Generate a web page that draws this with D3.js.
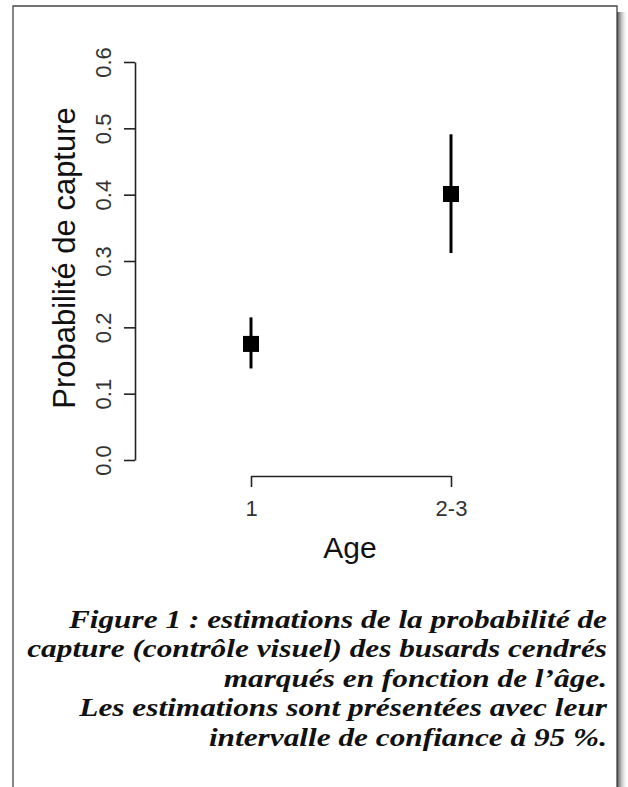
<!DOCTYPE html>
<html>
<head>
<meta charset="utf-8">
<script src="https://cdn.jsdelivr.net/npm/d3@7"></script>
<style>
  body { margin: 0; background: #fff; }
  svg { display: block; }
</style>
</head>
<body>
<div id="chart"></div>
<script>
// categories and values
var ageGroups = ['1', '2-3'];
var estimates = [0.175, 0.401];
var lowerCI = [0.138, 0.312];
var upperCI = [0.215, 0.491];
var yTicks = [0, 0.1, 0.2, 0.3, 0.4, 0.5, 0.6];
var captionLines = [
    'Figure 1 : estimations de la probabilité de',
    'capture (contrôle visuel) des busards cendrés',
    'marqués en fonction de l’âge.',
    'Les estimations sont présentées avec leur',
    'intervalle de confiance à 95 %.'
];

var W = 628, H = 787;

var svg = d3.select('#chart').append('svg')
    .attr('width', W)
    .attr('height', H);

// drop shadow on the right of the frame
var defs = svg.append('defs');
var grad = defs.append('linearGradient').attr('id', 'shadow');
grad.append('stop').attr('offset', '0%').attr('stop-color', '#333').attr('stop-opacity', 0.9);
grad.append('stop').attr('offset', '100%').attr('stop-color', '#fff').attr('stop-opacity', 0);

svg.append('rect')
    .attr('x', 617).attr('y', 12)
    .attr('width', 11).attr('height', H - 12)
    .attr('fill', 'url(#shadow)');

// frame (open at the bottom)
svg.append('path')
    .attr('d', 'M13,' + H + 'V6H617V' + H)
    .attr('fill', 'none')
    .attr('stroke', '#444')
    .attr('stroke-width', 1.3);

var y = d3.scaleLinear().domain([0, 0.6]).range([460, 62]);
var x = d3.scalePoint().domain(ageGroups).range([251, 451]);

var axisFont = 'Liberation Sans, Arial, sans-serif';

// y axis, R style with rotated labels
var yAxis = svg.append('g')
    .attr('transform', 'translate(135,0)')
    .call(d3.axisLeft(y).tickValues(yTicks).tickSize(11).tickSizeOuter(0).tickFormat(d3.format('.1f')));
yAxis.select('.domain').attr('stroke', '#222').attr('stroke-width', 1.6);
yAxis.selectAll('.tick line').attr('stroke', '#222').attr('stroke-width', 1.6);
yAxis.selectAll('.tick text')
    .attr('x', null).attr('dy', null)
    .attr('transform', 'translate(-24,0) rotate(-90)')
    .attr('text-anchor', 'middle')
    .attr('fill', '#333')
    .style('font-family', axisFont)
    .style('font-size', '22px');

// x axis
var xAxis = svg.append('g')
    .attr('transform', 'translate(0,476)')
    .call(d3.axisBottom(x).tickSize(11).tickSizeOuter(0));
xAxis.select('.domain').attr('stroke', '#222').attr('stroke-width', 1.6);
xAxis.selectAll('.tick line').attr('stroke', '#222').attr('stroke-width', 1.6);
xAxis.selectAll('.tick text')
    .attr('y', 40).attr('dy', null)
    .attr('fill', '#333')
    .style('font-family', axisFont)
    .style('font-size', '22px');

// axis titles
svg.append('text')
    .attr('transform', 'translate(75,258) rotate(-90)')
    .attr('text-anchor', 'middle')
    .style('font-family', axisFont)
    .style('font-size', '31px')
    .attr('fill', '#111')
    .text('Probabilité de capture');

svg.append('text')
    .attr('x', 350).attr('y', 558)
    .attr('text-anchor', 'middle')
    .style('font-family', axisFont)
    .style('font-size', '30px')
    .attr('fill', '#111')
    .text('Age');

// confidence intervals
svg.selectAll('line.ci')
    .data(ageGroups)
    .enter().append('line')
    .attr('class', 'ci')
    .attr('x1', function(d) { return x(d); })
    .attr('x2', function(d) { return x(d); })
    .attr('y1', function(d, i) { return y(lowerCI[i]); })
    .attr('y2', function(d, i) { return y(upperCI[i]); })
    .attr('stroke', '#000')
    .attr('stroke-width', 3);

// point estimates
var sq = 16;
svg.selectAll('rect.est')
    .data(ageGroups)
    .enter().append('rect')
    .attr('class', 'est')
    .attr('x', function(d) { return x(d) - sq / 2; })
    .attr('y', function(d, i) { return y(estimates[i]) - sq / 2; })
    .attr('width', sq)
    .attr('height', sq)
    .attr('fill', '#000');

// caption: right aligned, stretched sideways to the width of the original face
var caption = svg.append('g');
var capText = caption.selectAll('text')
    .data(captionLines)
    .enter().append('text')
    .attr('x', 0)
    .attr('y', function(d, i) { return 628 + i * 29.5; })
    .attr('text-anchor', 'end')
    .style('font-family', 'Liberation Serif, Times New Roman, serif')
    .style('font-weight', 'bold')
    .style('font-style', 'italic')
    .style('font-size', '26px')
    .attr('fill', '#111')
    .text(function(d) { return d; });

var widest = capText.nodes()[1].getComputedTextLength();
caption.attr('transform', 'translate(607,0) scale(' + (580 / widest) + ',1)');
</script>
</body>
</html>
